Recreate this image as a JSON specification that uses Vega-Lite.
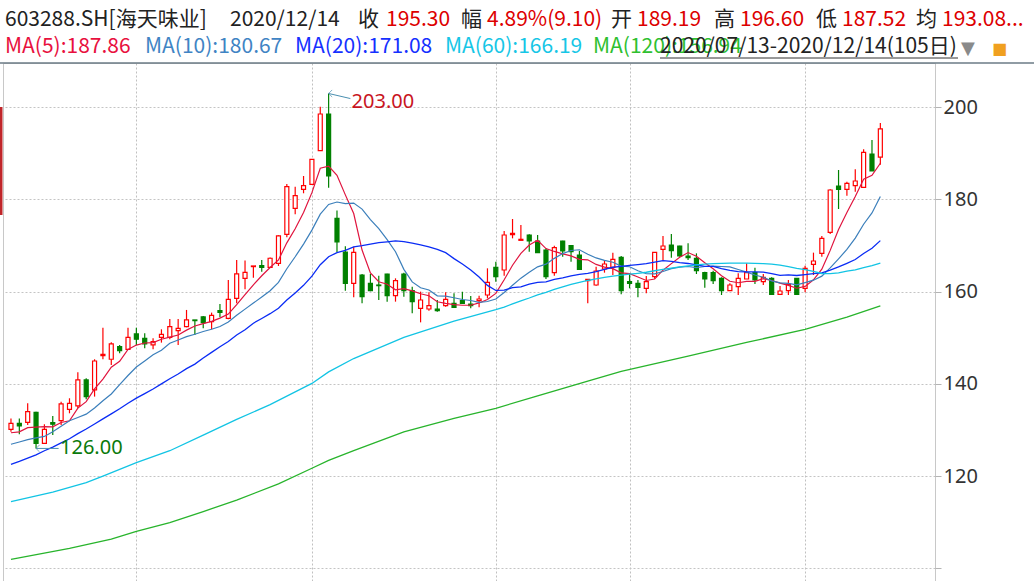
{
"$schema":"https://vega.github.io/schema/vega-lite/v6.json",
"width":932,"height":518,"autosize":"none",
"padding":{"left":3,"top":63,"right":99,"bottom":0},
"background":"white",
"config":{"view":{"stroke":"#c8c8c8"},"font":"Noto Sans"},
"datasets":{"k":[
{"i":0,"d":"2020-07-13","o":130.15,"h":132.5,"l":129.6,"c":131.45,"m5":129.4,"m10":126.9,"m20":122.55,"m60":114.45,"m120":101.95},
{"i":1,"d":"2020-07-14","o":131.45,"h":132.5,"l":129.1,"c":130.87,"m5":129.6,"m10":127.4,"m20":123.2},
{"i":2,"d":"2020-07-15","o":131.67,"h":135.79,"l":131.1,"c":133.98,"m5":130.5,"m10":127.9,"m20":123.9},
{"i":3,"d":"2020-07-16","o":133.84,"h":133.98,"l":126.0,"c":127.1,"m5":130.6,"m10":128.3,"m20":124.6},
{"i":4,"d":"2020-07-17","o":127.1,"h":131.24,"l":127.1,"c":130.15,"m5":130.71,"m10":128.6,"m20":125.5},
{"i":5,"d":"2020-07-20","o":131.6,"h":133.05,"l":128.92,"c":131.24,"m5":130.67,"m10":129.6,"m20":126.3,"m60":116.5},
{"i":6,"d":"2020-07-21","o":132.03,"h":136.15,"l":131.1,"c":135.65,"m5":131.62,"m10":130.8,"m20":127.2},
{"i":7,"d":"2020-07-22","o":134.49,"h":136.88,"l":133.62,"c":135.79,"m5":131.99,"m10":132.0,"m20":128.1,"m120":104.3},
{"i":8,"d":"2020-07-23","o":135.21,"h":142.5,"l":134.7,"c":140.85,"m5":134.74,"m10":132.7,"m20":129.2},
{"i":9,"d":"2020-07-24","o":140.85,"h":141.2,"l":136.66,"c":137.24,"m5":136.15,"m10":133.43,"m20":130.2,"m60":118.6},
{"i":10,"d":"2020-07-27","o":138.68,"h":145.34,"l":137.24,"c":144.97,"m5":138.9,"m10":134.78,"m20":131.3},
{"i":11,"d":"2020-07-28","o":146.13,"h":152.2,"l":145.34,"c":146.42,"m5":141.05,"m10":136.34,"m20":132.4,"m60":120.0},
{"i":12,"d":"2020-07-29","o":145.34,"h":149.02,"l":144.11,"c":148.66,"m5":143.63,"m10":137.81,"m20":133.5,"m120":106.3},
{"i":13,"d":"2020-07-30","o":148.08,"h":148.45,"l":146.64,"c":147.22,"m5":144.9,"m10":139.82,"m20":134.6},
{"i":14,"d":"2020-07-31","o":147.5,"h":152.2,"l":147.36,"c":150.11,"m5":147.48,"m10":141.82,"m20":135.8},
{"i":15,"d":"2020-08-03","o":150.83,"h":152.2,"l":148.45,"c":149.68,"m5":148.42,"m10":143.66,"m20":136.9,"m60":122.9,"m120":108.0},
{"i":16,"d":"2020-08-04","o":149.89,"h":150.98,"l":147.72,"c":148.66,"m5":148.87,"m10":144.96,"m20":137.9},
{"i":17,"d":"2020-08-05","o":148.45,"h":149.89,"l":147.5,"c":149.17,"m5":148.97,"m10":146.3,"m20":138.9},
{"i":18,"d":"2020-08-06","o":150.11,"h":151.84,"l":148.95,"c":150.76,"m5":149.68,"m10":147.29,"m20":140.0},
{"i":19,"d":"2020-08-07","o":150.11,"h":154.09,"l":149.68,"c":152.42,"m5":150.14,"m10":148.81,"m20":141.12,"m60":125.5,"m120":109.9},
{"i":20,"d":"2020-08-10","o":151.55,"h":154.09,"l":148.45,"c":152.06,"m5":150.61,"m10":149.52,"m20":142.15},
{"i":21,"d":"2020-08-11","o":152.42,"h":156.04,"l":152.28,"c":153.87,"m5":151.66,"m10":150.26,"m20":143.3},
{"i":22,"d":"2020-08-12","o":153.87,"h":153.87,"l":150.61,"c":153.72,"m5":152.57,"m10":150.77,"m20":144.29},
{"i":23,"d":"2020-08-13","o":154.52,"h":154.74,"l":152.06,"c":153.29,"m5":153.07,"m10":151.37,"m20":145.6,"m60":128.9,"m120":112.3},
{"i":24,"d":"2020-08-14","o":153.51,"h":155.46,"l":151.84,"c":154.88,"m5":153.56,"m10":151.85,"m20":146.83},
{"i":25,"d":"2020-08-17","o":155.89,"h":157.34,"l":154.45,"c":155.53,"m5":154.26,"m10":152.44,"m20":148.05},
{"i":26,"d":"2020-08-18","o":154.23,"h":162.55,"l":154.01,"c":158.35,"m5":155.15,"m10":153.41,"m20":149.18},
{"i":27,"d":"2020-08-19","o":158.57,"h":166.88,"l":157.48,"c":163.85,"m5":157.18,"m10":154.87,"m20":150.59,"m60":132.3,"m120":114.8},
{"i":28,"d":"2020-08-20","o":162.91,"h":166.74,"l":160.52,"c":164.21,"m5":159.36,"m10":156.22,"m20":151.75},
{"i":29,"d":"2020-08-21","o":165.44,"h":165.58,"l":163.05,"c":165.58,"m5":161.5,"m10":157.53,"m20":153.17},
{"i":30,"d":"2020-08-24","o":165.65,"h":166.88,"l":164.35,"c":165.29,"m5":163.46,"m10":158.86,"m20":154.19},
{"i":31,"d":"2020-08-25","o":165.29,"h":167.39,"l":165.22,"c":167.25,"m5":165.24,"m10":160.2,"m20":155.23,"m60":135.5},
{"i":32,"d":"2020-08-26","o":166.16,"h":172.23,"l":165.58,"c":172.09,"m5":166.88,"m10":162.03,"m20":156.4,"m120":118.3},
{"i":33,"d":"2020-08-27","o":172.45,"h":183.37,"l":171.8,"c":182.79,"m5":170.6,"m10":164.98,"m20":158.18},
{"i":34,"d":"2020-08-28","o":178.09,"h":182.79,"l":176.79,"c":180.84,"m5":173.65,"m10":167.58,"m20":159.71},
{"i":35,"d":"2020-08-31","o":182.21,"h":185.1,"l":181.35,"c":183.01,"m5":177.2,"m10":170.33,"m20":161.38},
{"i":36,"d":"2020-09-01","o":183.3,"h":188.79,"l":183.15,"c":188.72,"m5":181.49,"m10":173.36,"m20":163.38,"m60":140.1,"m120":121.7},
{"i":37,"d":"2020-09-02","o":190.6,"h":200.14,"l":190.53,"c":198.55,"m5":186.78,"m10":176.83,"m20":165.85},
{"i":38,"d":"2020-09-03","o":198.55,"h":203.0,"l":182.57,"c":185.11,"m5":187.25,"m10":178.92,"m20":167.57,"m60":142.6,"m120":123.4},
{"i":39,"d":"2020-09-04","o":175.92,"h":177.59,"l":168.55,"c":170.8,"m5":185.24,"m10":179.45,"m20":168.49},
{"i":40,"d":"2020-09-07","o":168.6,"h":169.85,"l":160.2,"c":161.8,"m5":181.0,"m10":179.1,"m20":168.98},
{"i":41,"d":"2020-09-08","o":161.81,"h":169.77,"l":158.78,"c":168.54,"m5":176.96,"m10":179.23,"m20":169.71,"m60":145.5,"m120":125.5},
{"i":42,"d":"2020-09-09","o":163.62,"h":163.84,"l":157.48,"c":158.92,"m5":169.03,"m10":177.91,"m20":169.97},
{"i":43,"d":"2020-09-10","o":161.81,"h":163.84,"l":160.1,"c":160.22,"m5":164.06,"m10":175.65,"m20":170.32},
{"i":44,"d":"2020-09-11","o":161.45,"h":163.48,"l":158.2,"c":161.31,"m5":162.16,"m10":173.7,"m20":170.64},
{"i":45,"d":"2020-09-14","o":163.84,"h":163.91,"l":157.84,"c":159.14,"m5":161.63,"m10":171.31,"m20":170.82},
{"i":46,"d":"2020-09-15","o":159.14,"h":162.9,"l":157.84,"c":162.39,"m5":160.4,"m10":168.68,"m20":171.02},
{"i":47,"d":"2020-09-16","o":163.84,"h":164.13,"l":158.92,"c":160.22,"m5":160.66,"m10":164.85,"m20":170.84,"m60":150.1,"m120":129.6},
{"i":48,"d":"2020-09-17","o":160.22,"h":161.09,"l":155.31,"c":157.84,"m5":160.18,"m10":162.12,"m20":170.52},
{"i":49,"d":"2020-09-18","o":156.39,"h":160.01,"l":153.35,"c":158.2,"m5":159.56,"m10":160.86,"m20":170.15},
{"i":50,"d":"2020-09-21","o":156.25,"h":159.86,"l":155.88,"c":156.97,"m5":159.12,"m10":160.38,"m20":169.74},
{"i":51,"d":"2020-09-22","o":156.25,"h":158.2,"l":155.67,"c":155.88,"m5":157.82,"m10":159.11,"m20":169.17},
{"i":52,"d":"2020-09-23","o":156.97,"h":159.86,"l":156.75,"c":158.34,"m5":157.45,"m10":159.05,"m20":168.48},
{"i":53,"d":"2020-09-24","o":157.48,"h":159.64,"l":156.54,"c":156.61,"m5":157.2,"m10":158.69,"m20":167.17,"m60":153.6,"m120":132.5},
{"i":54,"d":"2020-09-25","o":158.05,"h":160.01,"l":157.33,"c":157.48,"m5":157.06,"m10":158.31,"m20":166.0},
{"i":55,"d":"2020-09-28","o":157.33,"h":159.06,"l":156.39,"c":156.97,"m5":157.06,"m10":158.09,"m20":164.7},
{"i":56,"d":"2020-09-29","o":158.05,"h":159.14,"l":156.61,"c":158.41,"m5":157.56,"m10":157.69,"m20":163.19},
{"i":57,"d":"2020-09-30","o":159.28,"h":165.07,"l":158.56,"c":162.03,"m5":158.3,"m10":157.87,"m20":161.36},
{"i":58,"d":"2020-10-09","o":165.28,"h":166.51,"l":162.17,"c":163.26,"m5":159.63,"m10":158.42,"m20":160.27,"m60":156.1,"m120":134.7},
{"i":59,"d":"2020-10-12","o":164.71,"h":173.17,"l":163.48,"c":172.3,"m5":162.59,"m10":159.83,"m20":160.34,"m60":156.65},
{"i":60,"d":"2020-10-13","o":172.37,"h":175.77,"l":171.57,"c":172.66,"m5":165.73,"m10":161.39,"m20":160.88,"m60":157.34},
{"i":61,"d":"2020-10-14","o":171.14,"h":174.47,"l":171.14,"c":171.36,"m5":168.32,"m10":162.94,"m20":161.03,"m60":158.01},
{"i":62,"d":"2020-10-15","o":172.3,"h":172.44,"l":168.68,"c":171.0,"m5":170.12,"m10":164.21,"m20":161.63,"m60":158.63},
{"i":63,"d":"2020-10-16","o":171.0,"h":172.3,"l":168.4,"c":168.47,"m5":171.16,"m10":165.39,"m20":162.04,"m60":159.32,"m120":137.4},
{"i":64,"d":"2020-10-19","o":169.04,"h":169.41,"l":162.75,"c":163.26,"m5":169.35,"m10":165.97,"m20":162.14,"m60":159.87},
{"i":65,"d":"2020-10-20","o":164.13,"h":169.98,"l":163.48,"c":169.55,"m5":168.73,"m10":167.23,"m20":162.66,"m60":160.51},
{"i":66,"d":"2020-10-21","o":171.0,"h":171.07,"l":167.6,"c":168.83,"m5":168.22,"m10":168.27,"m20":162.98,"m60":161.06},
{"i":67,"d":"2020-10-22","o":169.98,"h":170.06,"l":166.51,"c":168.68,"m5":167.76,"m10":168.94,"m20":163.41,"m60":161.61},
{"i":68,"d":"2020-10-23","o":167.96,"h":168.83,"l":164.71,"c":164.85,"m5":167.03,"m10":169.1,"m20":163.76,"m60":162.01},
{"i":69,"d":"2020-10-26","o":162.39,"h":162.68,"l":157.48,"c":162.68,"m5":166.92,"m10":168.13,"m20":163.98,"m60":162.43,"m120":140.6},
{"i":70,"d":"2020-10-27","o":161.45,"h":165.43,"l":161.31,"c":164.49,"m5":165.91,"m10":167.32,"m20":164.36,"m60":162.76},
{"i":71,"d":"2020-10-28","o":164.92,"h":166.87,"l":164.13,"c":166.01,"m5":165.34,"m10":166.78,"m20":164.86,"m60":163.09},
{"i":72,"d":"2020-10-29","o":165.28,"h":168.47,"l":163.62,"c":167.02,"m5":165.01,"m10":166.38,"m20":165.3,"m60":163.39},
{"i":73,"d":"2020-10-30","o":167.45,"h":167.74,"l":159.43,"c":160.22,"m5":164.08,"m10":165.56,"m20":165.48,"m60":163.61,"m120":142.7},
{"i":74,"d":"2020-11-02","o":162.17,"h":163.98,"l":160.73,"c":161.81,"m5":163.91,"m10":165.41,"m20":165.69,"m60":163.8},
{"i":75,"d":"2020-11-03","o":161.81,"h":162.54,"l":158.78,"c":160.94,"m5":163.2,"m10":164.55,"m20":165.89,"m60":163.99},
{"i":76,"d":"2020-11-04","o":160.73,"h":163.4,"l":159.64,"c":162.17,"m5":162.43,"m10":163.89,"m20":166.08,"m60":164.22},
{"i":77,"d":"2020-11-05","o":163.26,"h":168.61,"l":162.83,"c":168.54,"m5":162.74,"m10":163.87,"m20":166.41,"m60":164.54},
{"i":78,"d":"2020-11-06","o":169.19,"h":172.08,"l":166.73,"c":169.91,"m5":164.67,"m10":164.38,"m20":166.74,"m60":164.86},
{"i":79,"d":"2020-11-09","o":170.13,"h":172.51,"l":167.38,"c":168.9,"m5":166.09,"m10":165.0,"m20":166.57,"m60":165.13},
{"i":80,"d":"2020-11-10","o":169.91,"h":169.98,"l":167.6,"c":167.74,"m5":167.45,"m10":165.33,"m20":166.32,"m60":165.39},
{"i":81,"d":"2020-11-11","o":167.74,"h":170.49,"l":166.87,"c":167.38,"m5":168.49,"m10":165.46,"m20":166.12,"m60":165.62,"m120":146.0},
{"i":82,"d":"2020-11-12","o":167.24,"h":168.32,"l":163.84,"c":164.56,"m5":167.7,"m10":165.22,"m20":165.8,"m60":165.8},
{"i":83,"d":"2020-11-13","o":164.13,"h":164.35,"l":160.87,"c":162.75,"m5":166.27,"m10":165.47,"m20":165.51,"m60":165.96},
{"i":84,"d":"2020-11-16","o":164.13,"h":164.56,"l":161.67,"c":162.39,"m5":164.96,"m10":165.53,"m20":165.47,"m60":166.08},
{"i":85,"d":"2020-11-17","o":162.9,"h":163.12,"l":159.28,"c":160.22,"m5":163.46,"m10":165.46,"m20":165.0,"m60":166.16},
{"i":86,"d":"2020-11-18","o":160.22,"h":161.81,"l":160.22,"c":161.45,"m5":162.27,"m10":165.38,"m20":164.64,"m60":166.21},
{"i":87,"d":"2020-11-19","o":161.09,"h":163.98,"l":159.28,"c":162.9,"m5":161.94,"m10":164.82,"m20":164.35,"m60":166.2},
{"i":88,"d":"2020-11-20","o":162.75,"h":166.15,"l":162.75,"c":164.13,"m5":162.22,"m10":164.24,"m20":164.31,"m60":166.2,"m120":149.0},
{"i":89,"d":"2020-11-23","o":164.13,"h":165.21,"l":161.67,"c":162.54,"m5":162.25,"m10":163.61,"m20":164.3,"m60":166.14},
{"i":90,"d":"2020-11-24","o":162.17,"h":163.84,"l":161.45,"c":163.12,"m5":162.83,"m10":163.14,"m20":164.24,"m60":166.11},
{"i":91,"d":"2020-11-25","o":162.9,"h":163.12,"l":159.43,"c":159.43,"m5":162.42,"m10":162.35,"m20":163.91,"m60":165.98},
{"i":92,"d":"2020-11-26","o":159.43,"h":161.24,"l":159.43,"c":160.15,"m5":161.87,"m10":161.91,"m20":163.56,"m60":165.78},
{"i":93,"d":"2020-11-27","o":160.22,"h":162.54,"l":159.28,"c":161.6,"m5":161.37,"m10":161.79,"m20":163.63,"m60":165.43},
{"i":94,"d":"2020-11-30","o":162.9,"h":162.97,"l":159.43,"c":159.43,"m5":160.75,"m10":161.5,"m20":163.51,"m60":165.07},
{"i":95,"d":"2020-12-01","o":160.73,"h":165.65,"l":159.86,"c":165.07,"m5":161.14,"m10":161.98,"m20":163.72,"m60":164.77,"m120":151.8},
{"i":96,"d":"2020-12-02","o":165.93,"h":168.47,"l":163.62,"c":166.66,"m5":162.58,"m10":162.5,"m20":163.94,"m60":164.4},
{"i":97,"d":"2020-12-03","o":168.32,"h":172.08,"l":167.6,"c":171.57,"m5":164.87,"m10":163.37,"m20":164.1,"m60":163.95},
{"i":98,"d":"2020-12-04","o":172.88,"h":182.2,"l":172.51,"c":182.06,"m5":168.96,"m10":165.16,"m20":164.7,"m60":163.9},
{"i":99,"d":"2020-12-07","o":182.93,"h":186.4,"l":177.94,"c":182.2,"m5":173.51,"m10":167.13,"m20":165.37,"m60":164.09},
{"i":100,"d":"2020-12-08","o":182.2,"h":183.87,"l":180.83,"c":183.51,"m5":177.2,"m10":169.17,"m20":166.16,"m60":164.45,"m120":154.5},
{"i":101,"d":"2020-12-09","o":183.0,"h":186.54,"l":181.7,"c":184.01,"m5":180.67,"m10":171.63,"m20":166.99,"m60":164.71},
{"i":102,"d":"2020-12-10","o":182.64,"h":190.88,"l":182.64,"c":190.23,"m5":184.4,"m10":174.63,"m20":168.27,"m60":165.23},
{"i":103,"d":"2020-12-11","o":189.87,"h":192.9,"l":186.2,"c":186.2,"m5":185.23,"m10":177.09,"m20":169.44,"m60":165.67},
{"i":104,"d":"2020-12-14","o":189.19,"h":196.6,"l":187.52,"c":195.3,"m5":187.86,"m10":180.67,"m20":171.08,"m60":166.19,"m120":156.94}
]},
"layer":[
{"data":{"name":"k"},
 "mark":{"type":"rule","strokeWidth":1.2},
 "encoding":{
  "x":{"field":"i","type":"quantitative","title":null,"scale":{"domain":[-0.355,109.94],"nice":false,"zero":false},
       "axis":{"orient":"top","values":[15,36,58,74,95],"grid":true,"gridDash":[2,2],"gridColor":"#c0c0c0","labels":false,"ticks":false,"domain":false,"title":null}},
  "y":{"field":"l","type":"quantitative","title":null,"scale":{"domain":[97.24,209.61],"nice":false,"zero":false},
       "axis":{"orient":"right","values":[100,120,140,160,180,200],"labelExpr":"datum.value==100?'':datum.label","grid":true,"gridDash":[2,2],"gridColor":"#c4c4c4","domain":false,"tickColor":"#b4b4b4","tickSize":6,"labelFontSize":20,"labelFont":"Noto Sans","labelColor":"#333333","labelPadding":2,"title":null}},
  "y2":{"field":"h"},
  "color":{"condition":{"test":"datum.c>=datum.o","value":"#ff0000"},"value":"#008000"}
 }},
{"data":{"name":"k"},
 "mark":{"type":"bar","width":4,"strokeWidth":1.2},
 "encoding":{
  "x":{"field":"i","type":"quantitative","title":null},
  "y":{"field":"o","type":"quantitative","title":null},
  "y2":{"field":"c"},
  "fill":{"condition":{"test":"datum.c>=datum.o","value":"#ffffff"},"value":"#008000"},
  "stroke":{"condition":{"test":"datum.c>=datum.o","value":"#ff0000"},"value":"#008000"}
 }},
{"data":{"name":"k"},
 "mark":{"type":"line","strokeWidth":1.2,"color":"#e0143e"},
 "encoding":{"x":{"field":"i","type":"quantitative","title":null},"y":{"field":"m5","type":"quantitative","title":null}}},
{"data":{"name":"k"},
 "mark":{"type":"line","strokeWidth":1.2,"color":"#3b7fbb"},
 "encoding":{"x":{"field":"i","type":"quantitative","title":null},"y":{"field":"m10","type":"quantitative","title":null}}},
{"data":{"name":"k"},
 "mark":{"type":"line","strokeWidth":1.3,"color":"#0a2cf5"},
 "encoding":{"x":{"field":"i","type":"quantitative","title":null},"y":{"field":"m20","type":"quantitative","title":null}}},
{"data":{"name":"k"},
 "transform":[{"filter":"isValid(datum.m60)"}],
 "mark":{"type":"line","strokeWidth":1.3,"color":"#12c4e4"},
 "encoding":{"x":{"field":"i","type":"quantitative","title":null},"y":{"field":"m60","type":"quantitative","title":null}}},
{"data":{"name":"k"},
 "transform":[{"filter":"isValid(datum.m120)"}],
 "mark":{"type":"line","strokeWidth":1.3,"color":"#28b42c"},
 "encoding":{"x":{"field":"i","type":"quantitative","title":null},"y":{"field":"m120","type":"quantitative","title":null}}},
{"data":{"values":[{}]},
 "mark":{"type":"rule","strokeWidth":1,"color":"#4a8fb0"},
 "encoding":{"x":{"datum":38,"type":"quantitative"},"y":{"datum":203,"type":"quantitative"},"x2":{"datum":40.6},"y2":{"datum":201.9}}},
{"data":{"values":[{}]},
 "mark":{"type":"rule","strokeWidth":1,"color":"#4a8fb0"},
 "encoding":{"x":{"datum":3,"type":"quantitative"},"y":{"datum":126,"type":"quantitative"},"x2":{"datum":5.7},"y2":{"datum":126}}},
{"data":{"values":[{"i":38,"v":203},{"i":3,"v":126}]},
 "mark":{"type":"point","shape":"M1,-1L0,0L1,1","filled":false,"stroke":"#4a8fb0","strokeWidth":1,"size":50},
 "encoding":{"x":{"field":"i","type":"quantitative","title":null},"y":{"field":"v","type":"quantitative","title":null}}},
{"data":{"values":[{}]},
 "mark":{"type":"text","align":"left","baseline":"middle","dx":23,"dy":9,"fontSize":20,"font":"Noto Sans","color":"#c8141e","text":"203.00"},
 "encoding":{"x":{"datum":38,"type":"quantitative"},"y":{"datum":203,"type":"quantitative"}}},
{"data":{"values":[{}]},
 "mark":{"type":"text","align":"left","baseline":"middle","dx":24,"dy":0,"fontSize":20,"font":"Noto Sans","color":"#0a7a0a","text":"126.00"},
 "encoding":{"x":{"datum":3,"type":"quantitative"},"y":{"datum":126,"type":"quantitative"}}},
{"data":{"values":[{}]},
 "mark":{"type":"rule","strokeWidth":1.5,"color":"#6b7b86"},
 "encoding":{"x":{"value":-3},"x2":{"value":1031},"y":{"value":0}}},
{"data":{"values":[{}]},
 "mark":{"type":"rule","strokeWidth":3,"color":"#c0262a"},
 "encoding":{"x":{"value":-2},"y":{"value":44},"y2":{"value":152}}},
{"data":{"values":[{}]},
 "mark":{"type":"rule","strokeWidth":1,"color":"#333333"},
 "encoding":{"x":{"value":657},"x2":{"value":955},"y":{"value":-5}}},
{"data":{"values":[{}]},"mark":{"type":"text","align":"left","baseline":"alphabetic","font":"Noto Sans CJK SC","fontSize":21,"color":"#222222","x":2,"y":-37,"text":"603288.SH[海天味业]"},"encoding":{}},
{"data":{"values":[{}]},"mark":{"type":"text","align":"left","baseline":"alphabetic","font":"Noto Sans CJK SC","fontSize":21,"color":"#222222","x":227,"y":-37,"text":"2020/12/14"},"encoding":{}},
{"data":{"values":[{}]},"mark":{"type":"text","align":"left","baseline":"alphabetic","font":"Noto Sans CJK SC","fontSize":21,"color":"#222222","x":355,"y":-37,"text":"收"},"encoding":{}},
{"data":{"values":[{}]},"mark":{"type":"text","align":"left","baseline":"alphabetic","font":"Noto Sans CJK SC","fontSize":21,"color":"#dd0000","x":383,"y":-37,"text":"195.30"},"encoding":{}},
{"data":{"values":[{}]},"mark":{"type":"text","align":"left","baseline":"alphabetic","font":"Noto Sans CJK SC","fontSize":21,"color":"#222222","x":458,"y":-37,"text":"幅"},"encoding":{}},
{"data":{"values":[{}]},"mark":{"type":"text","align":"left","baseline":"alphabetic","font":"Noto Sans CJK SC","fontSize":21,"color":"#dd0000","x":484,"y":-37,"text":"4.89%(9.10)"},"encoding":{}},
{"data":{"values":[{}]},"mark":{"type":"text","align":"left","baseline":"alphabetic","font":"Noto Sans CJK SC","fontSize":21,"color":"#222222","x":608,"y":-37,"text":"开"},"encoding":{}},
{"data":{"values":[{}]},"mark":{"type":"text","align":"left","baseline":"alphabetic","font":"Noto Sans CJK SC","fontSize":21,"color":"#dd0000","x":634,"y":-37,"text":"189.19"},"encoding":{}},
{"data":{"values":[{}]},"mark":{"type":"text","align":"left","baseline":"alphabetic","font":"Noto Sans CJK SC","fontSize":21,"color":"#222222","x":711,"y":-37,"text":"高"},"encoding":{}},
{"data":{"values":[{}]},"mark":{"type":"text","align":"left","baseline":"alphabetic","font":"Noto Sans CJK SC","fontSize":21,"color":"#dd0000","x":737,"y":-37,"text":"196.60"},"encoding":{}},
{"data":{"values":[{}]},"mark":{"type":"text","align":"left","baseline":"alphabetic","font":"Noto Sans CJK SC","fontSize":21,"color":"#222222","x":813,"y":-37,"text":"低"},"encoding":{}},
{"data":{"values":[{}]},"mark":{"type":"text","align":"left","baseline":"alphabetic","font":"Noto Sans CJK SC","fontSize":21,"color":"#dd0000","x":839,"y":-37,"text":"187.52"},"encoding":{}},
{"data":{"values":[{}]},"mark":{"type":"text","align":"left","baseline":"alphabetic","font":"Noto Sans CJK SC","fontSize":21,"color":"#222222","x":913,"y":-37,"text":"均"},"encoding":{}},
{"data":{"values":[{}]},"mark":{"type":"text","align":"left","baseline":"alphabetic","font":"Noto Sans CJK SC","fontSize":21,"color":"#dd0000","x":939,"y":-37,"text":"193.08..."},"encoding":{}},
{"data":{"values":[{}]},"mark":{"type":"text","align":"left","baseline":"alphabetic","font":"Noto Sans CJK SC","fontSize":21,"color":"#e8103e","x":2,"y":-10,"text":"MA(5):187.86"},"encoding":{}},
{"data":{"values":[{}]},"mark":{"type":"text","align":"left","baseline":"alphabetic","font":"Noto Sans CJK SC","fontSize":21,"color":"#3f84c4","x":142,"y":-10,"text":"MA(10):180.67"},"encoding":{}},
{"data":{"values":[{}]},"mark":{"type":"text","align":"left","baseline":"alphabetic","font":"Noto Sans CJK SC","fontSize":21,"color":"#1530ff","x":292,"y":-10,"text":"MA(20):171.08"},"encoding":{}},
{"data":{"values":[{}]},"mark":{"type":"text","align":"left","baseline":"alphabetic","font":"Noto Sans CJK SC","fontSize":21,"color":"#16c6e6","x":442,"y":-10,"text":"MA(60):166.19"},"encoding":{}},
{"data":{"values":[{}]},"mark":{"type":"text","align":"left","baseline":"alphabetic","font":"Noto Sans CJK SC","fontSize":21,"color":"#2ec030","x":590,"y":-10,"text":"MA(120):156.94"},"encoding":{}},
{"data":{"values":[{}]},"mark":{"type":"text","align":"left","baseline":"alphabetic","font":"Noto Sans CJK SC","fontSize":21,"color":"#222222","x":657,"y":-10,"text":"2020/07/13-2020/12/14(105日)"},"encoding":{}},
{"data":{"values":[{}]},"mark":{"type":"text","align":"left","baseline":"alphabetic","font":"DejaVu Sans","fontSize":18,"color":"#8a8a8a","x":958,"y":-9,"text":"▼"},"encoding":{}},
{"data":{"values":[{}]},"mark":{"type":"text","align":"left","baseline":"alphabetic","font":"DejaVu Sans","fontSize":16,"color":"#f0a020","x":989,"y":-9,"text":"■"},"encoding":{}}
]
}
